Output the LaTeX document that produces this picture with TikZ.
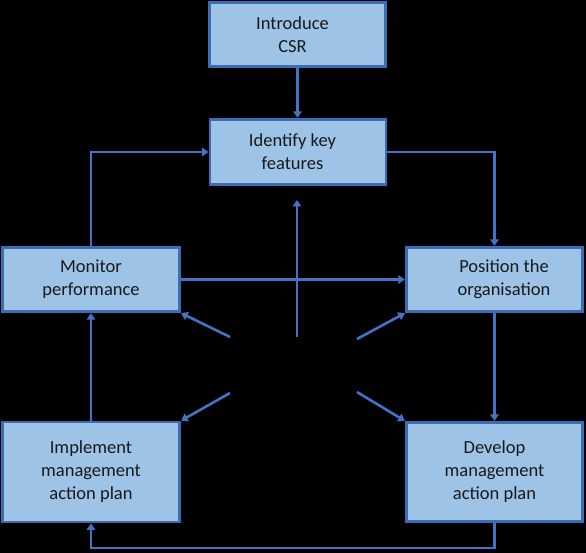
\documentclass[tikz,border=0pt]{standalone}
\usepackage{fontspec}
\setmainfont{Carlito}
\usetikzlibrary{arrows.meta}
\definecolor{boxfill}{HTML}{9DC3E6}
\definecolor{boxline}{HTML}{3A6DB4}
\definecolor{arr}{HTML}{4472C4}
\begin{document}
\begin{tikzpicture}[x=1pt,y=-1pt,
  box/.style={draw=boxline, line width=2.8pt, fill=boxfill, align=center, inner sep=0pt,
    font=\fontsize{18.5}{23}\selectfont, text=black!90},
  conn/.style={draw=arr, line width=2.6pt, -{Triangle[width=8.5pt,length=6.5pt]}}]
\fill[black] (0,0) rectangle (586,553);
\useasboundingbox (0,0) rectangle (586,553);

\node[box, minimum width=176.5pt, minimum height=64.5pt] (intro) at (297.5,34.5) {\hspace*{-10pt}Introduce\\\hspace*{-10pt}CSR};
\node[box, minimum width=176pt, minimum height=65.5pt] (ident) at (298,152) {\hspace*{-11pt}Identify key\\\hspace*{-11pt}features};
\node[box, minimum width=177.5pt, minimum height=64.5pt] (mon) at (91,279.5) {Monitor\\performance};
\node[box, minimum width=176.5pt, minimum height=64.5pt] (pos) at (494.5,279.5) {\hspace*{19pt}Position the\\\hspace*{19pt}organisation};
\node[box, minimum width=177.5pt, minimum height=100pt] (impl) at (91,472) {Implement\\management\\action plan};
\node[box, minimum width=176.5pt, minimum height=99.5pt] (dev) at (494.5,472) {Develop\\management\\action plan};

\coordinate (cup) at (297,337);
\coordinate (cupend) at (297,200);
\coordinate (cul) at (230,337);
\coordinate (cll) at (230,393);
\coordinate (cur) at (357,339);
\coordinate (clr) at (357,392);

\draw[conn] (intro.south) -- (intro.south |- ident.north);
\draw[conn] (mon.north) |- (ident.west);
\draw[conn] (ident.east) -| (pos.north);
\draw[conn] (mon.east) -- (pos.west);
\draw[conn] (pos.south) -- (dev.north);
\draw[conn] (dev.south) -- ++(0,25) -| (impl.south);
\draw[conn] (impl.north) -- (mon.south);
\draw[conn] (cup) -- (cupend);
\draw[conn] (cul) -- (mon.south east);
\draw[conn] (cll) -- (impl.north east);
\draw[conn] (cur) -- (pos.south west);
\draw[conn] (clr) -- (dev.north west);
\end{tikzpicture}
\end{document}
